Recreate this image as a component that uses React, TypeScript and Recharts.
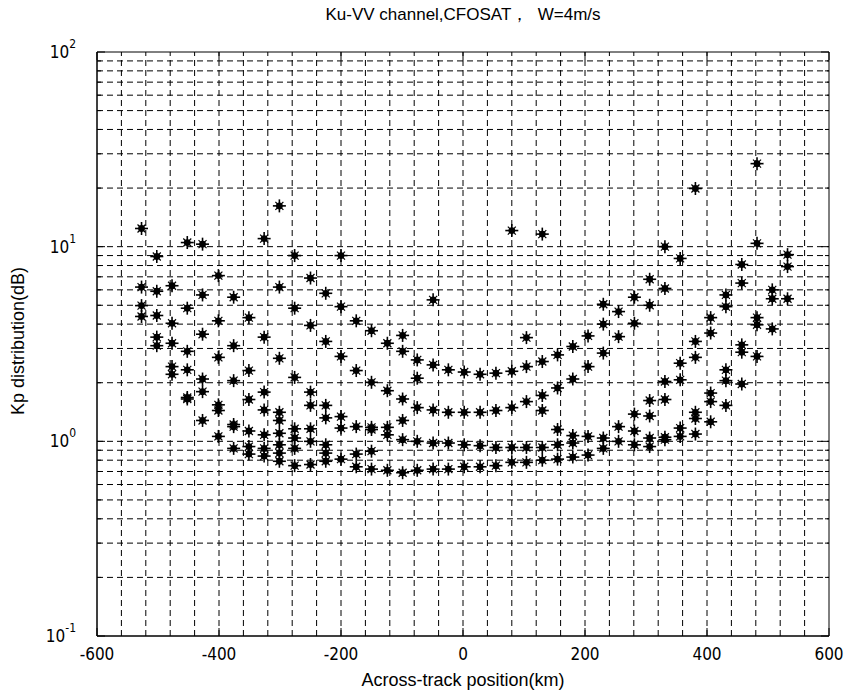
import React from 'react';
import { ScatterChart, Scatter, XAxis, YAxis, ReferenceLine, ReferenceArea } from 'recharts';

// Across-track positions (km) of the measurement columns
const positions = [-527, -502, -477, -452, -427, -401, -376, -351, -326, -301, -276, -250, -225, -200, -175, -150, -124, -99, -75, -49, -24, 2, 28, 54, 80, 104, 130, 155, 180, 205, 230, 255, 281, 306, 331, 356, 381, 406, 431, 457, 482, 507, 532];

// Kp values per column, sorted from lowest (level 1) to highest
const kpLevel1 = [4.38, 3.1, 2.21, 1.65, 1.28, 1.06, 0.92, 0.86, 0.84, 0.79, 0.75, 0.76, 0.79, 0.81, 0.74, 0.72, 0.71, 0.69, 0.71, 0.72, 0.72, 0.74, 0.74, 0.75, 0.78, 0.78, 0.8, 0.81, 0.83, 0.85, 0.92, 1.0, 0.96, 0.94, 1.02, 1.06, 1.09, 1.26, 1.53, 1.97, 2.73, 3.78, 5.4];
const kpLevel2 = [4.98, 3.43, 2.42, 1.68, 1.8, 1.44, 1.19, 0.94, 0.92, 0.87, 0.92, 1.0, 0.87, 1.17, 0.86, 0.89, 1.08, 1.02, 1.0, 0.98, 0.98, 0.96, 0.95, 0.93, 0.93, 0.93, 0.93, 0.96, 0.98, 1.06, 1.04, 1.19, 1.13, 1.04, 1.05, 1.17, 1.31, 1.6, 2.05, 2.87, 3.97, 5.4, 7.9];
const kpLevel3 = [6.2, 4.43, 3.19, 2.33, 2.09, 1.54, 1.22, 1.13, 1.08, 0.96, 1.04, 1.16, 0.96, 1.34, 1.19, 1.15, 1.18, 1.28, 1.49, 1.45, 1.41, 1.41, 1.41, 1.44, 1.49, 1.6, 1.44, 1.15, 1.07, 2.42, 2.84, 3.45, 1.38, 1.35, 1.64, 2.07, 1.41, 1.77, 2.33, 3.13, 4.32, 6.0, 9.1];
const kpLevel4 = [12.4, 5.9, 4.04, 2.9, 3.55, 2.7, 2.05, 1.64, 1.45, 1.1, 1.16, 1.53, 1.32, 2.73, 2.31, 1.18, 1.82, 1.65, 2.11, 2.47, 2.33, 2.27, 2.21, 2.24, 2.29, 2.42, 1.72, 1.88, 2.09, 3.48, 4.0, 4.64, 4.04, 1.62, 2.03, 2.52, 2.7, 3.6, 4.92, 6.5, 10.4, null, null];
const kpLevel5 = [null, 8.9, 6.3, 4.83, 5.65, 4.16, 3.1, 2.31, 1.79, 1.28, 2.13, 1.79, 1.53, 4.92, 4.16, 2.01, 3.19, 2.9, 2.62, 5.33, null, null, null, null, 12.1, 3.41, 2.57, 2.78, 3.07, null, 5.06, null, 5.5, 5.0, 6.1, 8.7, 3.26, 4.32, 5.65, 8.1, 26.7, null, null];
const kpLevel6 = [null, null, null, 10.5, 10.3, 7.1, 5.5, 4.32, 3.43, 1.41, 4.83, 3.94, 3.26, 9.0, null, 3.7, null, 3.5, null, null, null, null, null, null, null, null, 11.6, null, null, null, null, null, null, 6.8, 10.0, null, 19.9, null, null, null, null, null, null];
const kpLevel7 = [null, null, null, null, null, null, null, null, 11.0, 2.67, 9.0, 6.9, 5.76, null, null, null, null, null, null, null, null, null, null, null, null, null, null, null, null, null, null, null, null, null, null, null, null, null, null, null, null, null, null];
const kpLevel8 = [null, null, null, null, null, null, null, null, null, 6.2, null, null, null, null, null, null, null, null, null, null, null, null, null, null, null, null, null, null, null, null, null, null, null, null, null, null, null, null, null, null, null, null, null];
const kpLevel9 = [null, null, null, null, null, null, null, null, null, 16.2, null, null, null, null, null, null, null, null, null, null, null, null, null, null, null, null, null, null, null, null, null, null, null, null, null, null, null, null, null, null, null, null, null];

const levels = [kpLevel1, kpLevel2, kpLevel3, kpLevel4, kpLevel5, kpLevel6, kpLevel7, kpLevel8, kpLevel9];

// Axis ticks and grid
const xTicks = [-600, -400, -200, 0, 200, 400, 600];
const xGrid = [-560, -520, -480, -440, -400, -360, -320, -280, -240, -200, -160, -120, -80, -40, 0, 40, 80, 120, 160, 200, 240, 280, 320, 360, 400, 440, 480, 520, 560];
const yTicks = [0.1, 0.2, 0.3, 0.4, 0.5, 0.6, 0.7, 0.8, 0.9, 1, 2, 3, 4, 5, 6, 7, 8, 9, 10, 20, 30, 40, 50, 60, 70, 80, 90, 100];
const yGrid = [0.2, 0.3, 0.4, 0.5, 0.6, 0.7, 0.8, 0.9, 1, 2, 3, 4, 5, 6, 7, 8, 9, 10, 20, 30, 40, 50, 60, 70, 80, 90];
const yMajor = [0.1, 1, 10, 100];
const yExp = ['-1', '0', '1', '2'];

const titleText = 'Ku-VV channel,CFOSAT，  W=4m/s';
const xLabelText = 'Across-track position(km)';
const yLabelText = 'Kp distribution(dB)';

const W = 854;
const H = 695;
const PLOT_TOP = 52;
const PLOT_RIGHT = 829;
const FONT = "'Liberation Sans', Arial, sans-serif";
const TICK_FONT = "'Liberation Sans Narrow', 'Arial Narrow', 'DejaVu Sans Condensed', 'Liberation Sans', sans-serif";

const XTick = (props: any) => {
  const { x, y, payload } = props;
  return (
    <g>
      <line x1={x} x2={x} y1={y} y2={y - 8} stroke="#000" strokeWidth={1} />
      <line x1={x} x2={x} y1={PLOT_TOP} y2={PLOT_TOP + 8} stroke="#000" strokeWidth={1} />
      <text x={x} y={y + 24} textAnchor="middle" fontFamily={TICK_FONT} fontSize={17} fill="#000">
        {payload.value}
      </text>
    </g>
  );
};

const YTick = (props: any) => {
  const { x, y, payload } = props;
  const idx = yMajor.indexOf(payload.value);
  const major = idx >= 0;
  const len = major ? 8 : 4;
  return (
    <g>
      <line x1={x} x2={x + len} y1={y} y2={y} stroke="#000" strokeWidth={1} />
      <line x1={PLOT_RIGHT} x2={PLOT_RIGHT - len} y1={y} y2={y} stroke="#000" strokeWidth={1} />
      {major && (
        <text x={x - 21} y={y + 6} textAnchor="end" fontFamily={TICK_FONT} fontSize={17} fill="#000">
          <tspan>10</tspan>
          <tspan dy={-10} fontSize={12}>{yExp[idx]}</tspan>
        </text>
      )}
    </g>
  );
};

const Star = (props: any) => {
  const { cx, cy } = props;
  if (cx == null || cy == null) return null;
  return (
    <g stroke="#000" strokeWidth={1.6}>
      <line x1={cx - 6.5} x2={cx + 6.5} y1={cy} y2={cy} />
      <line x1={cx} x2={cx} y1={cy - 6.5} y2={cy + 6.5} />
      <line x1={cx - 4} y1={cy - 4} x2={cx + 4} y2={cy + 4} strokeWidth={1.2} />
      <line x1={cx - 4} y1={cy + 4} x2={cx + 4} y2={cy - 4} strokeWidth={1.2} />
      <circle cx={cx} cy={cy} r={2.6} fill="#000" />
    </g>
  );
};

export default function App() {
  const seriesData = levels.map((lv) =>
    positions
      .map((p, i) => ({ x: p, y: lv[i] }))
      .filter((d) => d.y != null)
  );
  return (
    <div style={{ position: 'absolute', left: 0, top: 0, width: W, height: H, background: '#fff' }}>
      <ScatterChart width={W} height={H} margin={{ top: PLOT_TOP, right: W - PLOT_RIGHT, bottom: 0, left: 0 }}>
        <XAxis
          type="number"
          dataKey="x"
          domain={[-600, 600]}
          ticks={xTicks}
          interval={0}
          allowDataOverflow
          height={59}
          tickSize={0}
          tickMargin={0}
          tickLine={false}
          axisLine={{ stroke: '#000' }}
          tick={XTick}
        />
        <YAxis
          type="number"
          dataKey="y"
          scale="log"
          domain={[0.1, 100]}
          ticks={yTicks}
          interval={0}
          allowDataOverflow
          width={97}
          tickSize={0}
          tickMargin={0}
          tickLine={false}
          axisLine={{ stroke: '#000' }}
          tick={YTick}
        />
        {xGrid.map((v) => (
          <ReferenceLine key={'gx' + v} x={v} stroke="#000" strokeWidth={1} strokeDasharray="6 4" />
        ))}
        {yGrid.map((v) => (
          <ReferenceLine key={'gy' + v} y={v} stroke="#000" strokeWidth={1} strokeDasharray="6 4" />
        ))}
        <ReferenceArea x1={-600} x2={600} y1={0.1} y2={100} fill="none" fillOpacity={0} stroke="#000" strokeWidth={1} />
        {seriesData.map((d, i) => (
          <Scatter key={'s' + i} data={d} shape={Star} isAnimationActive={false} />
        ))}
      </ScatterChart>
      <div style={{ position: 'absolute', left: 463, top: 6, transform: 'translateX(-50%)', whiteSpace: 'pre', fontFamily: FONT, fontSize: 17, lineHeight: '17px', color: '#000' }}>
        {titleText}
      </div>
      <div style={{ position: 'absolute', left: 463, top: 671, transform: 'translateX(-50%)', whiteSpace: 'pre', fontFamily: FONT, fontSize: 18, lineHeight: '18px', color: '#000' }}>
        {xLabelText}
      </div>
      <div style={{ position: 'absolute', left: 18, top: 341, transform: 'translate(-50%, -50%) rotate(-90deg)', whiteSpace: 'pre', fontFamily: FONT, fontSize: 18, lineHeight: '18px', color: '#000' }}>
        {yLabelText}
      </div>
    </div>
  );
}
